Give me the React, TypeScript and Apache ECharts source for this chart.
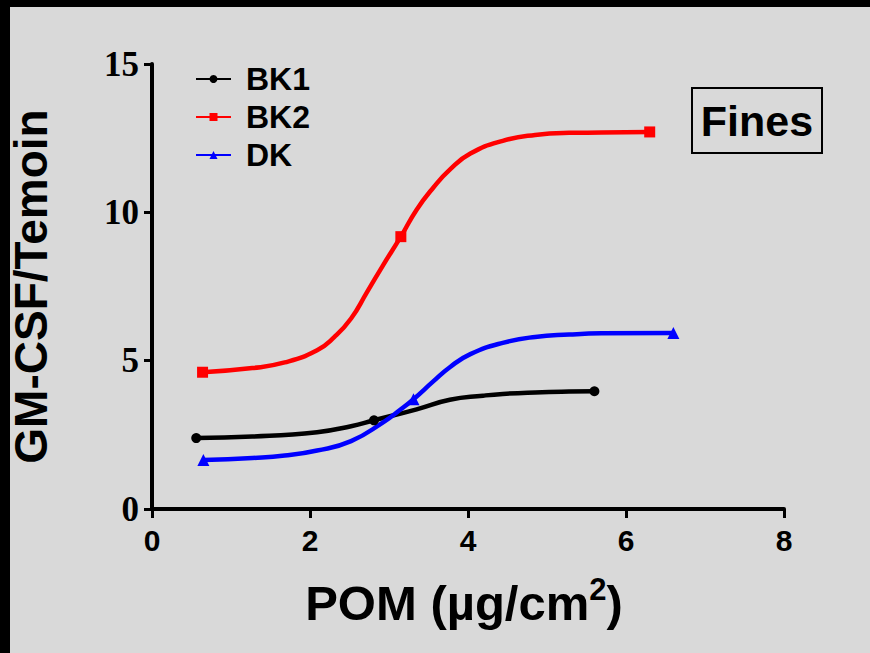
import React, { useEffect, useRef } from "react";
import * as echarts from "echarts";

// Curve points (x: POM µg/cm², y: GM-CSF/Temoin)
const bk1X = [0.56, 1.27, 2.09, 2.52, 2.81, 3.35, 3.77, 4.19, 4.44, 4.85, 5.28, 5.6];
const bk1Y = [2.39, 2.44, 2.59, 2.79, 2.99, 3.36, 3.68, 3.82, 3.88, 3.93, 3.96, 3.97];
const bk1Marks = [0, 4, 11];

const bk2X = [0.64, 1.27, 1.68, 2.09, 2.31, 2.52, 2.72, 2.93, 3.15, 3.35, 3.56, 3.77, 4.03, 4.44, 4.85, 5.28, 5.69, 6.3];
const bk2Y = [4.61, 4.75, 4.94, 5.35, 5.8, 6.42, 7.3, 8.24, 9.18, 10.09, 10.83, 11.44, 11.98, 12.41, 12.61, 12.68, 12.69, 12.71];
const bk2Marks = [0, 8, 17];

const dkX = [0.65, 1.27, 1.68, 2.09, 2.52, 2.93, 3.15, 3.31, 3.56, 3.77, 4.03, 4.44, 4.85, 5.28, 5.69, 6.6];
const dkY = [1.65, 1.72, 1.8, 1.97, 2.29, 2.93, 3.36, 3.7, 4.3, 4.78, 5.22, 5.6, 5.8, 5.88, 5.92, 5.93];
const dkMarks = [0, 7, 15];

const xTicks = { min: 0, max: 8, interval: 2 };
const yTicks = { min: 0, max: 15, interval: 5 };

const seriesNames = ["BK1", "BK2", "DK"];
const seriesColors = ["#000000", "#ff0000", "#0000ff"];
const seriesSymbols = ["circle", "rect", "triangle"];
const seriesSymbolSizes = [10, 11, 12];

const xTitleParts = ["POM (µg/cm", "2", ")"];
const yTitle = "GM-CSF/Temoin";
const boxLabel = "Fines";

const buildData = (xs: number[], ys: number[], marks: number[]) =>
  xs.map((x, i) =>
    marks.includes(i) ? { value: [x, ys[i]] } : { value: [x, ys[i]], symbol: "none" }
  );

export default function App() {
  const ref = useRef<HTMLDivElement>(null);
  useEffect(() => {
    if (!ref.current) return;
    const chart = echarts.init(ref.current, undefined, { renderer: "svg" });
    const datasets = [
      buildData(bk1X, bk1Y, bk1Marks),
      buildData(bk2X, bk2Y, bk2Marks),
      buildData(dkX, dkY, dkMarks),
    ];
    const sans = "'Liberation Sans', Arial, sans-serif";
    const serif = "'Liberation Serif', 'Times New Roman', serif";

    // measure title parts for manual superscript layout
    const mainSize = 49;
    const supSize = 31;
    const ctx = document.createElement("canvas").getContext("2d");
    let w1 = 280, w2 = 17, w3 = 16;
    if (ctx) {
      ctx.font = `bold ${mainSize}px ${sans}`;
      w1 = ctx.measureText(xTitleParts[0]).width;
      w3 = ctx.measureText(xTitleParts[2]).width;
      ctx.font = `bold ${supSize}px ${sans}`;
      w2 = ctx.measureText(xTitleParts[1]).width;
    }
    const total = w1 + w2 + w3;
    const cx = 464;
    const x0 = cx - total / 2;

    chart.setOption({
      animation: false,
      backgroundColor: "#d9d9d9",
      grid: { left: 146, right: 86, top: 64, bottom: 144, containLabel: false },
      legend: {
        left: 190,
        top: 57,
        orient: "vertical",
        itemWidth: 35,
        itemHeight: 10,
        itemGap: 4,
        textStyle: { fontFamily: sans, fontWeight: "bold", fontSize: 32, color: "#000", padding: [0, 0, 0, 10], lineHeight: 34 },
        data: seriesNames,
      },
      xAxis: {
        type: "value",
        min: xTicks.min,
        max: xTicks.max,
        interval: xTicks.interval,
        splitLine: { show: false },
        axisLine: { show: true, onZero: false, lineStyle: { color: "#000", width: 4 } },
        axisTick: { show: true, length: 9, lineStyle: { color: "#000", width: 3 } },
        axisLabel: { fontFamily: sans, fontWeight: "bold", fontSize: 30, color: "#000", margin: 16 },
      },
      yAxis: {
        type: "value",
        min: yTicks.min,
        max: yTicks.max,
        interval: yTicks.interval,
        splitLine: { show: false },
        axisLine: { show: true, onZero: false, lineStyle: { color: "#000", width: 4 } },
        axisTick: { show: true, length: 8, lineStyle: { color: "#000", width: 3 } },
        axisLabel: { fontFamily: serif, fontWeight: "bold", fontSize: 35, color: "#000", margin: 13 },
        name: yTitle,
        nameLocation: "middle",
        nameRotate: 90,
        nameGap: 98,
        nameTextStyle: { fontFamily: sans, fontWeight: "bold", fontSize: 46, color: "#000" },
      },
      series: seriesNames.map((name, i) => ({
        name,
        type: "line",
        smooth: 0.5,
        data: datasets[i],
        symbol: seriesSymbols[i],
        symbolSize: seriesSymbolSizes[i],
        showSymbol: true,
        itemStyle: { color: seriesColors[i] },
        lineStyle: { color: seriesColors[i], width: 4.5 },
      })),
      graphic: [
        { type: "rect", shape: { x: 0, y: 0, width: 870, height: 7 }, style: { fill: "#000" } },
        { type: "rect", shape: { x: 0, y: 0, width: 10, height: 653 }, style: { fill: "#000" } },
        { type: "rect", shape: { x: 692, y: 88, width: 130, height: 65 }, style: { fill: "none", stroke: "#000", lineWidth: 2 } },
        {
          type: "text",
          x: 757,
          y: 121,
          style: { text: boxLabel, fontFamily: sans, fontWeight: "bold", fontSize: 43, fill: "#000", align: "center", verticalAlign: "middle" },
        },
        {
          type: "text",
          x: x0,
          y: 603,
          style: { text: xTitleParts[0], fontFamily: sans, fontWeight: "bold", fontSize: mainSize, fill: "#000", align: "left", verticalAlign: "middle" },
        },
        {
          type: "text",
          x: x0 + w1,
          y: 589,
          style: { text: xTitleParts[1], fontFamily: sans, fontWeight: "bold", fontSize: supSize, fill: "#000", align: "left", verticalAlign: "middle" },
        },
        {
          type: "text",
          x: x0 + w1 + w2,
          y: 603,
          style: { text: xTitleParts[2], fontFamily: sans, fontWeight: "bold", fontSize: mainSize, fill: "#000", align: "left", verticalAlign: "middle" },
        },
      ],
    });
    return () => chart.dispose();
  }, []);
  return <div ref={ref} style={{ position: "fixed", left: 0, top: 0, width: 870, height: 653 }} />;
}
